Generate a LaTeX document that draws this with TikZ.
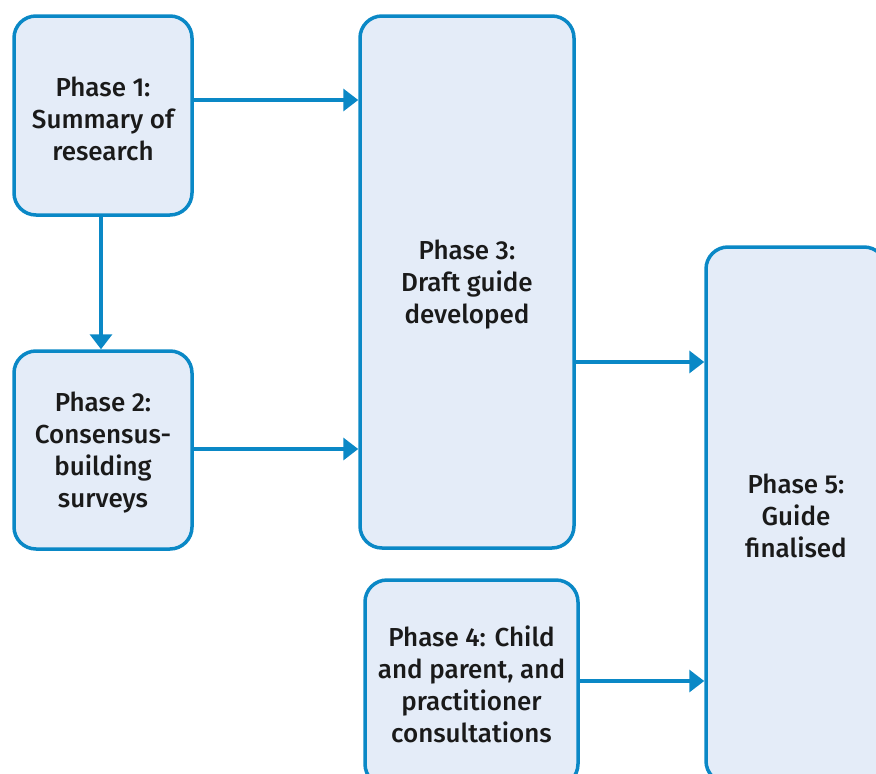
\documentclass[tikz,border=0pt]{standalone}
\usepackage{fontspec}
\setmainfont{Fira Sans}[UprightFont=* Medium]
\usetikzlibrary{arrows.meta}
\definecolor{edgeblue}{HTML}{0A88C6}
\definecolor{boxfill}{HTML}{E4ECF8}
\definecolor{txt}{HTML}{1A1A1A}
\begin{document}
\begin{tikzpicture}[x=1pt,y=-1pt,
  phasebox/.style={draw=edgeblue, fill=boxfill, line width=3.5pt, rounded corners=22pt, inner sep=0pt},
  phasetext/.style={align=center, text=txt, font=\fontsize{26}{32}\selectfont, inner sep=0pt},
  flow/.style={draw=edgeblue, line width=3.5pt, -{Triangle[length=15pt,width=22pt]}}]
\useasboundingbox (0,0) rectangle (876,774);
\clip (0,0) rectangle (876,774);
\node[phasebox, minimum width=178pt, minimum height=199pt] (p1) at (103,115.5) {};
\node[phasebox, minimum width=178pt, minimum height=198pt] (p2) at (103,450) {};
\node[phasebox, minimum width=214pt, minimum height=532pt] (p3) at (467,282) {};
\node[phasebox, minimum width=213pt, minimum height=206pt] (p4) at (471.5,683) {};
\node[phasebox, minimum width=180pt, minimum height=536pt] (p5) at (796,515) {};
\node[phasetext] (t1) at ([yshift=-3pt]p1.center) {Phase 1:\\Summary of\\research};
\node[phasetext] (t2) at ([yshift=-3pt]p2.center) {Phase 2:\\Consensus-\\building\\surveys};
\node[phasetext] (t3) at ([yshift=-3pt]p3.center) {Phase 3:\\Draft guide\\developed};
\node[phasetext] (t4) at ([yshift=-1pt]p4.center) {Phase 4: Child\\and parent, and\\practitioner\\consultations};
\node[phasetext] (t5) at ([yshift=-1pt]p5.center) {Phase 5:\\Guide\\finalised};
\draw[flow] (p1.east |- {(0,100)}) -- (p3.west |- {(0,100)});
\draw[flow] (p1.south) ++(-2,0) coordinate (p1s) -- (p1s |- p2.north);
\draw[flow] (p2.east |- {(0,449)}) -- (p3.west |- {(0,449)});
\draw[flow] (p3.east |- {(0,362)}) -- (p5.west |- {(0,362)});
\draw[flow] (p4.east |- {(0,681)}) -- (p5.west |- {(0,681)});
\end{tikzpicture}
\end{document}
